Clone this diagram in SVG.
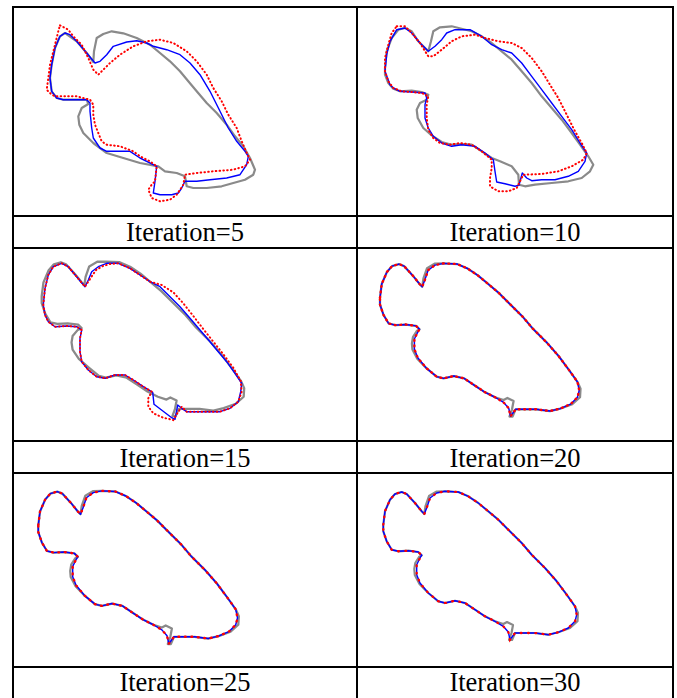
<svg xmlns="http://www.w3.org/2000/svg" width="677" height="698" viewBox="0 0 677 698">
<style>
.grid{stroke:#000;stroke-width:2;fill:none}
.cap{font-family:"Liberation Serif","Times New Roman",serif;font-size:26.5px;text-anchor:middle;fill:#000}
.gt{fill:none;stroke:#8a8a8a;stroke-width:2.2;stroke-linejoin:round;filter:url(#soft)}
.bl{fill:none;stroke:#0000ff;stroke-width:1.4;stroke-linejoin:round}
.rd{fill:none;stroke:#ff0000;stroke-width:2;stroke-linecap:round;stroke-dasharray:0.6 3.2}
.rd2{fill:none;stroke:#ff0000;stroke-width:2.3;stroke-linecap:round;stroke-dasharray:0.8 6.5}
</style>
<defs>
<filter id="soft" x="-5%" y="-5%" width="110%" height="110%"><feGaussianBlur stdDeviation="0.5"/></filter>
<path id="S" d="M26.3,51.7 L28,38.3 L33,26.7 L38,21 L44.7,19 L49.7,21 L58,30 L64.7,38.3 L67.3,41 L69.7,35 L73,25 L79.7,20 L88,18.3 L101.3,19 L111.3,23.3 L121.3,30 L131.3,38.3 L141.3,46.7 L151.3,56.7 L164.7,70 L174.7,81.7 L188,95 L199.7,108.3 L209.7,121.7 L218,133.3 L219.7,141.7 L218,148.3 L211.3,155 L201.3,159.3 L191.3,161.7 L178,160 L166.3,160 L158,160 L153,166.7 L151.3,159 L146.3,153.3 L138,148.3 L128,143.3 L118,136.7 L108,130 L98,127.7 L88,130 L81.3,128.3 L71.3,120 L63,110 L59.7,101.7 L59.7,91.7 L63,85 L64.7,82.3 L61.3,79 L51.3,77.7 L41.3,78.3 L34.7,76.7 L29.7,68.3 L26.3,58.3 Z"/>
<path id="G" d="M26.3,51.7 L28,38.3 L33,26.7 L38,21 L44.7,19 L49.7,21 L58,30 L64.7,38.3 L67.3,41 L68.5,33 L72,23 L79.7,18.5 L88,18.3 L101.3,19 L111.3,23.3 L121.3,30 L131.3,38.3 L141.3,46.7 L151.3,56.7 L164.7,70 L174.7,81.7 L188,95 L199.7,108.3 L209.7,121.7 L218,133.3 L221,140 L220.5,148.3 L213,155 L201.3,159.3 L191.3,161.7 L178,160 L166.3,160 L158,160 L155,167 L152,167 L154.5,160 L156,152 L150,149 L146.3,151 L138,148.3 L128,143.3 L118,136.7 L108,130 L98,127.7 L88,130 L81.3,128.3 L71.3,120 L62,112 L56,103 L55,96 L56,90 L61,84 L64.7,82.3 L61.3,79 L51.3,77.7 L41.3,78.3 L34.7,76.7 L29.7,68.3 L26.3,58.3 Z"/>
<path id="G2" d="M26.3,51.7 L28,38.3 L33,26.7 L38,21 L44.7,19 L49.7,21 L58,30 L64.7,38.3 L67.3,41 L68.5,33 L72,23 L79.7,18.5 L88,18.3 L101.3,19 L111.3,23.3 L121.3,30 L131.3,38.3 L141.3,46.7 L151.3,56.7 L164.7,70 L174.7,81.7 L188,95 L199.7,108.3 L209.7,121.7 L218,133.3 L221,140 L220.5,148.3 L213,155 L201.3,159.3 L191.3,161.7 L178,160 L166.3,160 L158,160 L155,167 L152,167 L154.5,160 L156,152 L150,149 L146.3,151 L138,148.3 L128,143.3 L118,136.7 L108,130 L98,127.7 L88,130 L81.3,128.3 L71.3,120 L62.5,111 L57.8,102 L57.3,96 L58.3,90 L62,84 L64.7,82.3 L61.3,79 L51.3,77.7 L41.3,78.3 L34.7,76.7 L29.7,68.3 L26.3,58.3 Z"/>
</defs>

<g id="table">
<line class="grid" x1="13" y1="7" x2="673" y2="7"/>
<line class="grid" x1="13" y1="216" x2="673" y2="216"/>
<line class="grid" x1="13" y1="248" x2="673" y2="248"/>
<line class="grid" x1="13" y1="441" x2="673" y2="441"/>
<line class="grid" x1="13" y1="473" x2="673" y2="473"/>
<line class="grid" x1="13" y1="667" x2="673" y2="667"/>
<line class="grid" x1="13" y1="6" x2="13" y2="698"/>
<line class="grid" x1="357" y1="6" x2="357" y2="698"/>
<line class="grid" x1="673" y1="6" x2="673" y2="698"/>
</g>

<g id="cell-1">
<path class="gt" d="M65,33 L76.7,41.3 L86.7,53 L93.3,62 L94,51.3 L96.7,38 L103.3,34 L111.7,31.3 L123.3,33.3 L136.7,38 L150,44.7 L160,53 L170,61.3 L180,71.3 L188.3,81.3 L196.7,91.3 L206.7,103 L216.7,113 L226.7,124.7 L235,136.3 L243.3,146.3 L250,158 L255,169.7 L253.3,174.7 L245,179.7 L233.3,183 L221.7,186.3 L206.7,188 L193.3,188 L186.7,186.3 L185,176.3 L176.7,173 L165,171.3 L158.3,166.3 L140,163 L123.3,158 L106.7,153 L93.3,143 L83.3,133 L79.3,124.7 L78.3,116.3 L81.7,108 L88.3,104 L86.7,99.7 L73.3,99.7 L63.3,99.7 L56.7,98 L51.7,91.3 L50,78 L51.7,64.7 L55,48 L60,36.3 Z"/>
<path class="bl" d="M65,33 L70,34.7 L76.7,41.3 L86.7,53 L95,63 L100,61.3 L106.7,54.7 L113.3,46.3 L126.7,42 L136.7,40.7 L146.7,43 L153.3,46.3 L166.7,49.7 L180,54.7 L190,63 L200,74.7 L210,91.3 L220,111.3 L228.3,128 L236.7,141.3 L245,151.3 L248.3,156.3 L246.7,164.7 L240,174.7 L226.7,178 L210,179.7 L196.7,181.3 L185,181.3 L181.7,188 L178.3,193 L171.7,194.7 L160,194.7 L153.3,193 L155,181.3 L156.7,166.3 L140,158 L130,151.3 L116.7,151.3 L106.7,151.3 L100,148 L93.3,138 L91.7,128 L90,111.3 L90,103 L86.7,99.7 L73.3,99.7 L63.3,99.7 L56.7,98 L51.7,91.3 L50,78 L51.7,64.7 L55,48 L60,36.3 Z"/>
<path class="rd" d="M60,25.3 L68.3,29.7 L73.3,36.3 L81.7,44.7 L88.3,58 L93.3,69.7 L98.3,74.7 L103.3,69.7 L110,63 L120,54.7 L133.3,46.3 L146.7,41.3 L160,39.7 L173.3,43 L186.7,51.3 L196.7,61.3 L206.7,74.7 L213.3,88 L221.7,101.3 L228.3,114.7 L236.7,128 L241.7,141.3 L246.7,153 L250,159.7 L245,166.3 L233.3,169.7 L213.3,171.3 L196.7,173 L185,174.7 L183.3,184.7 L176.7,194.7 L170,199.7 L160,201.3 L151.7,198 L148.3,189.7 L151.7,184.7 L155,181.3 L156.7,166.3 L150,161.3 L140,156.3 L133.3,151.3 L120,146.3 L106.7,144.7 L101.7,141.3 L98.3,133 L95,124.7 L93.3,114.7 L93.3,104.7 L90,99.7 L76.7,96.3 L65,96.3 L55,96.3 L51.7,94.7 L46.7,89.7 L48.3,78 L50,64.7 L55,44.7 L58.3,31.3 Z"/>
<text class="cap" x="185" y="241">Iteration=5</text>
</g>

<g id="cell-2">
<path class="gt" d="M385,68 L386.7,51.3 L391.7,38 L398.3,29.7 L405,28 L411.7,31.3 L418.3,41.3 L428.3,51.3 L431,41.3 L433.3,31.3 L440,27.3 L451.7,26.3 L461.7,28.7 L471.7,31.3 L481.7,36.3 L491.7,43 L501.7,51.3 L511.7,59.7 L521.7,71.3 L531.7,83 L541.7,96.3 L551.7,108 L561.7,119.7 L571.7,133 L580,144.7 L588.3,156.3 L593.3,164.7 L590,171.3 L581.7,178 L568.3,181.3 L551.7,183 L535,184.7 L525,186.3 L519,184.7 L518.3,174.7 L511.7,166.3 L500,161.3 L491.7,158 L481.7,151.3 L471.7,144.7 L461.7,144 L451.7,144.7 L441.7,142 L431.7,135.3 L423.3,128 L417.7,118 L416.7,109.7 L420,103 L426.7,99.7 L428.3,94.7 L421.7,92 L411.7,90.7 L400,91.3 L393.3,88.7 L388.3,83 L385,74.7 Z"/>
<path class="bl" d="M390,84.7 L385,71.3 L386.7,54.7 L390,41.3 L396.7,29.7 L405,28 L411.7,33 L420,43 L428.3,51.3 L435,46.3 L441.7,39.7 L446.7,33 L455,29.7 L470,29.7 L481.7,36.3 L491.7,44.7 L501.7,49.7 L511.7,53 L521.7,63 L531.7,76.3 L541.7,89.7 L551.7,103 L561.7,116.3 L571.7,129.7 L580,143 L586.7,153 L585,161.3 L578.3,171.3 L568.3,176.3 L555,179.7 L541.7,179.7 L531.7,180.7 L526.7,178 L522.3,173 L519,185.3 L515,186.3 L505,183.7 L496.7,182 L495,171.3 L493.3,159.7 L485,153 L475,146.3 L461.7,144.7 L451.7,146.3 L441.7,143 L433.3,136.3 L428.3,128 L425,118 L425,104.7 L426.7,98 L425,93 L411.7,92 L400,91.3 L393.3,88 Z"/>
<path class="rd" d="M396.7,26.3 L405,26.3 L411.7,33 L420,43 L428.3,56.3 L433.3,56.3 L441.7,49.7 L451.7,41.3 L461.7,36.3 L475,34.7 L485,38 L498.3,41.3 L511.7,43 L521.7,48 L531.7,58 L541.7,71.3 L550,84.7 L558.3,98 L566.7,114.7 L575,131.3 L581.7,143 L586.7,153 L583.3,159.7 L571.7,166.3 L558.3,171.3 L541.7,174 L523.3,174.7 L520,181.3 L516.7,188 L508.3,191.3 L498.3,191.3 L490,186.3 L490,178 L491.7,168 L491.7,159.7 L481.7,151.3 L471.7,144.7 L460,143 L450,144.7 L440,143 L433.3,138 L428.3,129.7 L426.7,118 L426.7,104.7 L428.3,96.3 L421.7,93 L411.7,92 L401.7,91.3 L393.3,88 L388.3,81.3 L385,71.3 L385,58 L388.3,44.7 L391.7,33 Z"/>
<text class="cap" x="515" y="241">Iteration=10</text>
</g>

<g id="cell-3">
<use href="#G" class="gt" transform="translate(14.35,242.5) scale(1.04)"/>
<path class="bl" d="M43.3,305 L45,288.3 L48.3,275 L53.3,266.7 L61.7,263.3 L68.3,266.7 L76.7,276.7 L85,286.7 L88.3,280 L91.7,271.7 L98.3,266.7 L106.7,263.3 L118.3,263.3 L130,268.3 L140,275 L150,281.7 L160,286.7 L170,296.7 L180,306.7 L190,318.3 L200,330 L210,341.7 L218.3,351.7 L226.7,361.7 L235,373.3 L241.7,383.3 L240.7,391.7 L238.3,401.7 L230,408.3 L220,411.7 L206.7,411.7 L196.7,411.7 L186.7,411.7 L181.7,408.3 L177.7,405 L175,419.3 L171.7,417.7 L154,404.3 L152.7,392.3 L143.3,386.7 L133.3,380 L125,375 L115,375 L105,378.3 L96.7,376.7 L88.3,370 L81.7,361.7 L80,351.7 L80,338.3 L81.7,330 L76.7,326.7 L66.7,326 L55,326.7 L48.3,321.7 L45,315 Z"/>
<path class="rd" d="M43.3,305 L45,288.3 L48.3,275 L53.3,266.7 L61.7,263.3 L68.3,266.7 L76.7,276.7 L85,286.7 L90,279 L96,270 L103,266 L110,264 L118.3,263.3 L130,268.3 L140,275 L150,281.7 L161.7,285 L173.3,292.3 L183.3,303.3 L193.3,316 L203.3,329 L213.3,341.7 L223.3,354.3 L233.3,367.7 L240.7,381 L241.7,391.7 L238.3,401.7 L230,408.3 L220,411.7 L206.7,411.7 L196.7,411.7 L186.7,411.7 L181.7,406.7 L176.7,414.3 L173.3,420 L163.3,417.7 L153.3,413.3 L148.3,406.7 L148.3,398.3 L151.7,391.7 L143.3,386.7 L133.3,380 L125,375 L115,375 L105,378.3 L96.7,376.7 L88.3,370 L81.7,361.7 L80,351.7 L80,338.3 L81.7,330 L76.7,326.7 L66.7,326 L55,326.7 L48.3,321.7 L45,315 Z"/>
<text class="cap" x="185" y="467">Iteration=15</text>
</g>

<g id="cell-4">
<g transform="translate(352.9,244.5) scale(1.03)">
<use href="#G2" class="gt"/>
<use href="#S" class="bl"/>
<use href="#S" class="rd2" style="stroke-dasharray:0.8 4.5"/>
</g>
<text class="cap" x="515" y="467">Iteration=20</text>
</g>

<g id="cell-5">
<g transform="translate(11.2,472) scale(1.03)">
<use href="#G2" class="gt"/>
<use href="#S" class="bl"/>
<use href="#S" class="rd2" style="stroke-dasharray:0.8 5.5"/>
</g>
<text class="cap" x="185" y="691">Iteration=25</text>
</g>

<g id="cell-6">
<g transform="translate(357,473)">
<use href="#G2" class="gt"/>
<use href="#S" class="bl"/>
<use href="#S" class="rd2"/>
</g>
<text class="cap" x="515" y="691">Iteration=30</text>
</g>
</svg>
